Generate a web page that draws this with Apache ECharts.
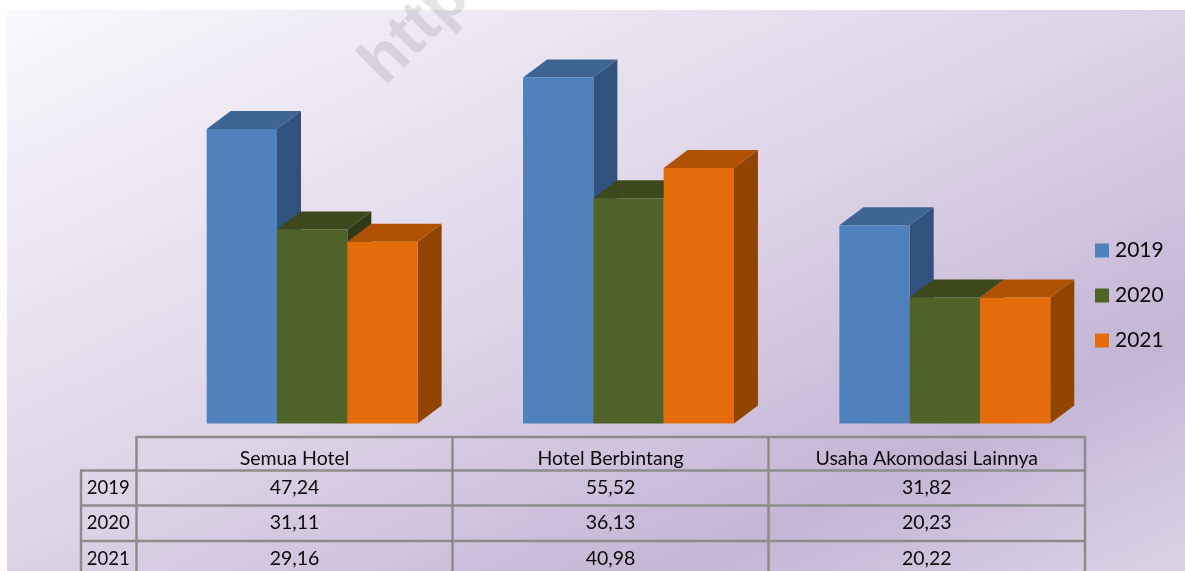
<!DOCTYPE html>
<html>
<head>
<meta charset="utf-8">
<style>html,body{margin:0;padding:0;background:#fff;overflow:hidden}#c{width:1185px;height:571px}</style>
<script src="https://cdn.jsdelivr.net/npm/echarts@6/dist/echarts.min.js"></script>
</head>
<body>
<div id="c"></div>
<script>
var categories = ['Semua Hotel', 'Hotel Berbintang', 'Usaha Akomodasi Lainnya'];
var seriesNames = ['2019', '2020', '2021'];
var values2019 = [47.24, 55.52, 31.82];
var values2020 = [31.11, 36.13, 20.23];
var values2021 = [29.16, 40.98, 20.22];
var valueLabels2019 = ['47,24', '55,52', '31,82'];
var valueLabels2020 = ['31,11', '36,13', '20,23'];
var valueLabels2021 = ['29,16', '40,98', '20,22'];

var frontColors = ['#4f81bd', '#4f6228', '#e46c0a'];
var topColors = ['#3e6494', '#3d481c', '#b05204'];
var sideColors = ['#30527c', '#303a16', '#924403'];
var FONT = 'Lato, "Open Sans", sans-serif';
var DX = 24, DY = 18, BAR_SHARE = 70.3 / 316.3;

function box3d(seriesIndex) {
  return function (params, api) {
    var p = api.coord([api.value(0), api.value(1)]);
    var base = api.coord([api.value(0), 0]);
    var w = api.size([1, 0])[0] * BAR_SHARE;
    var l = p[0] + (seriesIndex - 1.5) * w;
    var r = l + w, t = p[1], b = base[1];
    return {
      type: 'group',
      children: [
        {type: 'polygon', shape: {points: [[r, t], [r + DX, t - DY], [r + DX, b - DY], [r, b]]}, style: {fill: sideColors[seriesIndex]}},
        {type: 'polygon', shape: {points: [[l, t], [l + DX, t - DY], [r + DX, t - DY], [r, t]]}, style: {fill: topColors[seriesIndex]}},
        {type: 'rect', shape: {x: l, y: t, width: w, height: b - t}, style: {fill: frontColors[seriesIndex]}}
      ]
    };
  };
}
function mkSeries(i, vals) {
  return {
    name: seriesNames[i], type: 'custom', renderItem: box3d(i),
    itemStyle: {color: frontColors[i]},
    encode: {x: 0, y: 1}, clip: false,
    data: vals.map(function (v, k) { return [k, v]; })
  };
}

// table layout
var colX = [136.5, 452.5, 768.5, 1085];
var rowY = [437, 470.5, 505.5, 541, 576];
var headX = 81;
var LINE = {stroke: '#8c8c8c', lineWidth: 2.5};
var g = [];
g.push({type: 'rect', z: -10, silent: true, shape: {x: 7, y: 10, width: 1178, height: 561},
  style: {fill: new echarts.graphic.LinearGradient(7, 10, 427, 910, [
    {offset: 0, color: '#f9f7fc'}, {offset: 0.5, color: '#dcd3e7'},
    {offset: 0.8, color: '#c5b5d5'}, {offset: 1, color: '#d8d1e5'}], true)}});
g.push({type: 'text', z: -5, silent: true, x: 395, y: 97, rotation: Math.PI / 4,
  style: {text: 'http', font: 'bold 65px "Liberation Sans", sans-serif', fill: 'rgba(130,130,135,0.22)', textVerticalAlign: 'bottom', verticalAlign: 'alphabetic', align: 'left'}});
function line(x1, y1, x2, y2) {
  g.push({type: 'line', silent: true, shape: {x1: x1, y1: y1, x2: x2, y2: y2}, style: LINE});
}
line(colX[0] - 1, rowY[0], colX[3] + 1, rowY[0]);
line(headX - 1, rowY[1], colX[3], rowY[1]);
line(headX - 1, rowY[2], colX[3], rowY[2]);
line(headX - 1, rowY[3], colX[3], rowY[3]);
colX.forEach(function (x) { line(x, rowY[0], x, 571); });
line(headX, rowY[1], headX, 571);
function cell(txt, cx, cy, size) {
  g.push({type: 'text', silent: true, x: cx, y: cy,
    style: {text: txt, font: size + 'px ' + FONT, fill: '#0a0a0a', align: 'center', verticalAlign: 'middle'}});
}
categories.forEach(function (c, i) { cell(c, (colX[i] + colX[i + 1]) / 2, 459, 19.5); });
var rowVals = [valueLabels2019, valueLabels2020, valueLabels2021];
var rowCy = [488, 523, 559];
seriesNames.forEach(function (n, r) {
  cell(n, (headX + colX[0]) / 2 - 0.5, rowCy[r], 18.5);
  rowVals[r].forEach(function (v, i) { cell(v, (colX[i] + colX[i + 1]) / 2, rowCy[r], 19.5); });
});

var chart = echarts.init(document.getElementById('c'), null, {renderer: 'canvas'});
chart.setOption({
  animation: false,
  backgroundColor: '#fff',
  grid: {left: 154, width: 949, top: 49.5, height: 374, containLabel: false},
  xAxis: {type: 'category', data: categories, show: false},
  yAxis: {type: 'value', min: 0, max: 60, show: false},
  legend: {
    orient: 'vertical', left: 1090, top: 235, itemWidth: 14, itemHeight: 14, itemGap: 24,
    icon: 'rect', selectedMode: false,
    textStyle: {fontFamily: FONT, fontSize: 21, color: '#0a0a0a', padding: [0, 0, 0, 1]},
    data: seriesNames
  },
  series: [mkSeries(0, values2019), mkSeries(1, values2020), mkSeries(2, values2021)],
  graphic: {elements: g}
});
</script>
</body>
</html>
